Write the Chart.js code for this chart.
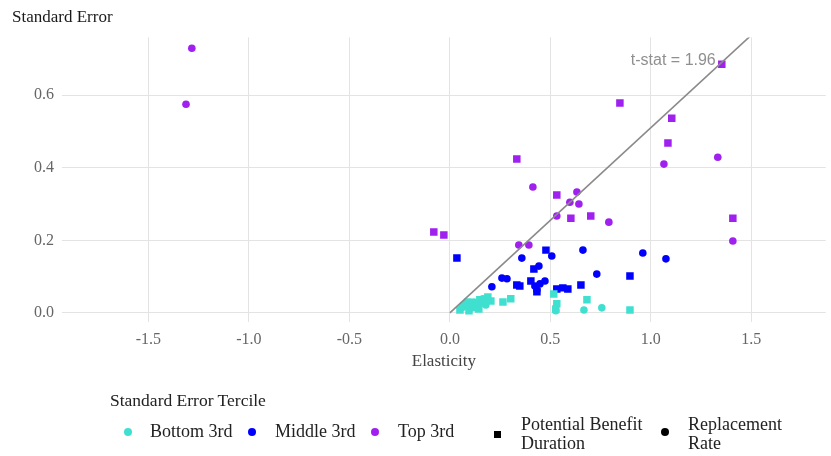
<!DOCTYPE html>
<html>
<head>
    <title>Standard Error vs Elasticity</title>
    <script src="https://cdn.jsdelivr.net/npm/chart.js"></script>
    <style>
        body { margin: 0; background: #fff; }
        #wrap { position: relative; width: 831px; height: 456px; font-family: "Liberation Serif", serif; }
        .lg { position: absolute; color: #222; font-size: 18px; line-height: 19px; white-space: nowrap; }
        .dot { position: absolute; width: 8px; height: 8px; border-radius: 50%; }
        .sq { position: absolute; width: 7px; height: 7px; background: #000; }
    </style>
</head>
<body>
<div id="wrap">
    <canvas id="chart"></canvas>

    <div class="lg" style="left:110px; top:391px; font-size:17.5px;">Standard Error Tercile</div>
    <div class="dot" style="left:124px; top:428px; background:#40E0D0;"></div>
    <div class="lg" style="left:150px; top:422px;">Bottom 3rd</div>
    <div class="dot" style="left:248px; top:428px; background:#0000FF;"></div>
    <div class="lg" style="left:275px; top:422px;">Middle 3rd</div>
    <div class="dot" style="left:371px; top:428px; background:#A020F0;"></div>
    <div class="lg" style="left:398px; top:422px;">Top 3rd</div>
    <div class="sq" style="left:494px; top:431px;"></div>
    <div class="lg" style="left:521px; top:415px;">Potential Benefit<br>Duration</div>
    <div class="dot" style="left:661px; top:428px; background:#000;"></div>
    <div class="lg" style="left:688px; top:415px;">Replacement<br>Rate</div>
</div>

<script>
    // tick labels
    const xTicks = [-1.5, -1.0, -0.5, 0.0, 0.5, 1.0, 1.5];
    const yTicks = [0.0, 0.2, 0.4, 0.6];

    // Top 3rd
    const topRateX = [-1.284, -1.313, 0.413, 0.632, 0.597, 0.642, 0.532, 0.791, 1.065, 1.333, 1.408, 0.343, 0.393];
    const topRateY = [0.729, 0.575, 0.347, 0.333, 0.305, 0.300, 0.267, 0.250, 0.410, 0.429, 0.198, 0.187, 0.187];
    const topPbdX = [1.353, 0.846, 1.104, 1.085, 0.333, 0.532, 0.602, 0.701, 1.408, -0.080, -0.030];
    const topPbdY = [0.685, 0.578, 0.536, 0.468, 0.424, 0.325, 0.261, 0.267, 0.261, 0.223, 0.215];

    // Middle 3rd
    const midRateX = [0.662, 0.960, 1.075, 0.358, 0.507, 0.443, 0.731, 0.259, 0.284, 0.473, 0.209, 0.423, 0.448, 0.433];
    const midRateY = [0.173, 0.165, 0.149, 0.151, 0.157, 0.129, 0.107, 0.096, 0.094, 0.088, 0.072, 0.074, 0.080, 0.063];
    const midPbdX = [0.035, 0.478, 0.418, 0.896, 0.403, 0.333, 0.348, 0.652, 0.532, 0.562, 0.587, 0.433];
    const midPbdY = [0.151, 0.173, 0.121, 0.102, 0.088, 0.077, 0.074, 0.077, 0.066, 0.069, 0.066, 0.058];

    // Bottom 3rd
    const botRateX = [0.060, 0.080, 0.100, 0.119, 0.139, 0.164, 0.179, 0.527, 0.667, 0.756];
    const botRateY = [0.014, 0.025, 0.019, 0.030, 0.019, 0.039, 0.022, 0.006, 0.008, 0.014];
    const botPbdX = [0.050, 0.070, 0.090, 0.109, 0.129, 0.149, 0.169, 0.189, 0.095, 0.144, 0.204, 0.264, 0.303, 0.517, 0.532, 0.527, 0.682, 0.896];
    const botPbdY = [0.008, 0.019, 0.030, 0.014, 0.025, 0.036, 0.028, 0.044, 0.006, 0.011, 0.033, 0.030, 0.039, 0.052, 0.025, 0.011, 0.036, 0.008];

    // t-stat = 1.96 reference line
    const tStat = 1.96;
    const lineX = [0, 1.5];

    const toPoints = (xs, ys) => xs.map((x, i) => ({ x: x, y: ys[i] }));

    const tealColor = '#40E0D0';
    const blueColor = '#0000FF';
    const purpleColor = '#A020F0';

    const pointSet = (xs, ys, color, shape) => ({
        data: toPoints(xs, ys),
        backgroundColor: color,
        borderWidth: 0,
        pointStyle: shape,
        pointRadius: shape === 'rect' ? 5.3 : 3.8,
        order: 1
    });

    const serif = '"Liberation Serif", serif';

    // label next to the line
    const lineLabel = {
        id: 'lineLabel',
        afterDatasetsDraw(chart) {
            const ctx = chart.ctx;
            const x = chart.scales.x.getPixelForValue(1.323);
            const y = chart.scales.y.getPixelForValue(0.696);
            ctx.save();
            ctx.font = '16px "Liberation Sans", sans-serif';
            ctx.fillStyle = '#8f8f8f';
            ctx.textAlign = 'right';
            ctx.textBaseline = 'middle';
            ctx.fillText('t-stat = 1.96', x, y);
            ctx.restore();
        }
    };

    new Chart(document.getElementById('chart'), {
        type: 'scatter',
        data: {
            datasets: [
                {
                    type: 'line',
                    data: lineX.map(x => ({ x: x, y: x / tStat })),
                    borderColor: '#8a8a8a',
                    borderWidth: 1.6,
                    pointRadius: 0,
                    showLine: true,
                    fill: false,
                    order: 0
                },
                pointSet(botPbdX, botPbdY, tealColor, 'rect'),
                pointSet(botRateX, botRateY, tealColor, 'circle'),
                pointSet(midPbdX, midPbdY, blueColor, 'rect'),
                pointSet(midRateX, midRateY, blueColor, 'circle'),
                pointSet(topPbdX, topPbdY, purpleColor, 'rect'),
                pointSet(topRateX, topRateY, purpleColor, 'circle')
            ]
        },
        options: {
            responsive: true,
            maintainAspectRatio: false,
            animation: false,
            layout: { padding: { left: 12, right: 0, top: 0, bottom: 84 } },
            plugins: {
                legend: { display: false },
                tooltip: { enabled: false },
                title: {
                    display: true,
                    text: 'Standard Error',
                    align: 'start',
                    color: '#1a1a1a',
                    font: { family: serif, size: 17, weight: 'normal' },
                    padding: { top: 7, bottom: 10 }
                }
            },
            scales: {
                x: {
                    type: 'linear',
                    min: -1.93,
                    max: 1.87,
                    afterBuildTicks: axis => { axis.ticks = xTicks.map(v => ({ value: v })); },
                    afterFit: axis => { axis.height = 50; },
                    grid: { color: '#e3e3e3', lineWidth: 1, drawTicks: false },
                    border: { display: false },
                    ticks: {
                        color: '#666',
                        font: { family: serif, size: 16 },
                        padding: 8,
                        callback: v => v.toFixed(1)
                    },
                    title: {
                        display: true,
                        text: 'Elasticity',
                        color: '#444',
                        font: { family: serif, size: 17 },
                        padding: { top: 4, bottom: 0 }
                    }
                },
                y: {
                    type: 'linear',
                    min: -0.025,
                    max: 0.759,
                    afterBuildTicks: axis => { axis.ticks = yTicks.map(v => ({ value: v })); },
                    afterFit: axis => { axis.width = 50; },
                    grid: { color: '#e3e3e3', lineWidth: 1, drawTicks: false },
                    border: { display: false },
                    ticks: {
                        color: '#666',
                        font: { family: serif, size: 16 },
                        padding: 8,
                        callback: v => v.toFixed(1)
                    }
                }
            }
        },
        plugins: [lineLabel]
    });
</script>
</body>
</html>
